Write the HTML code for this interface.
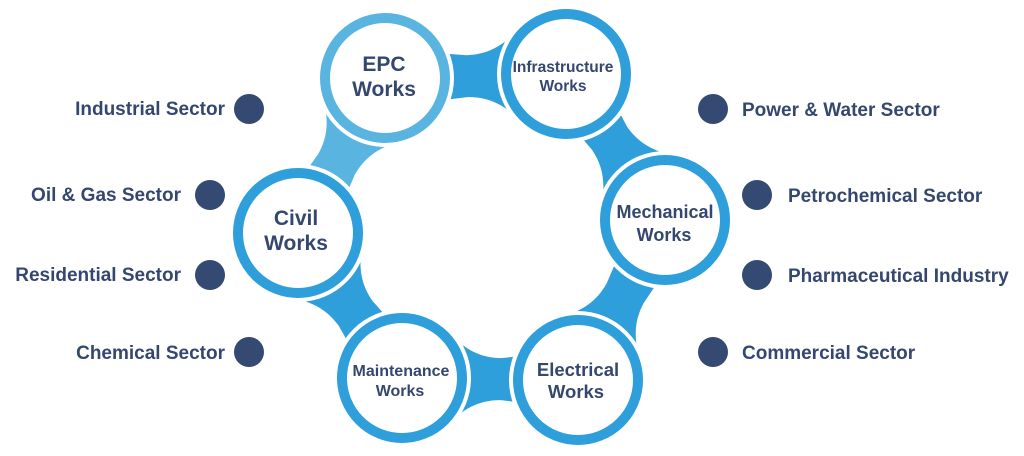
<!DOCTYPE html>
<html><head><meta charset="utf-8"><style>
html,body{margin:0;padding:0;background:#fff;width:1024px;height:456px;overflow:hidden}
svg{display:block}
text{font-family:"Liberation Sans",Arial,sans-serif;font-weight:bold;fill:#34476f}
</style></head><body>
<svg id="s" width="1024" height="456" viewBox="0 0 1024 456" xmlns="http://www.w3.org/2000/svg">
<g id="tails"></g><g id="gaps"></g><g id="patch"></g><g id="rings"></g>
<g font-size="19">
<text x="225" y="115" text-anchor="end">Industrial Sector</text>
<text x="181" y="201" text-anchor="end">Oil &amp; Gas Sector</text>
<text x="181" y="281" text-anchor="end">Residential Sector</text>
<text x="225" y="359" text-anchor="end">Chemical Sector</text>
<text x="742" y="116">Power &amp; Water Sector</text>
<text x="788" y="202">Petrochemical Sector</text>
<text x="788" y="282">Pharmaceutical Industry</text>
<text x="742" y="359">Commercial Sector</text>
</g>
<g fill="#344a73">
<circle cx="249" cy="109" r="15"/><circle cx="210" cy="195" r="15"/><circle cx="210" cy="275" r="15"/><circle cx="249" cy="352" r="15"/>
<circle cx="713" cy="109" r="15"/><circle cx="757" cy="195" r="15"/><circle cx="757" cy="275" r="15"/><circle cx="713" cy="352" r="15"/>
</g>
<g text-anchor="middle">
<text x="384" y="71" font-size="21">EPC</text><text x="384" y="96" font-size="21">Works</text>
<text x="563" y="72" font-size="15.5">Infrastructure</text><text x="563" y="91" font-size="15.5">Works</text>
<text x="665" y="218" font-size="18">Mechanical</text><text x="664" y="241" font-size="18">Works</text>
<text x="296" y="225" font-size="21">Civil</text><text x="296" y="250" font-size="21">Works</text>
<text x="401" y="376" font-size="16">Maintenance</text><text x="400" y="396" font-size="16">Works</text>
<text x="578" y="376" font-size="18.5">Electrical</text><text x="576" y="398" font-size="18.5">Works</text>
</g>
</svg>
<script>
var C={epc:[385,78],inf:[566,74],mec:[665,220],ele:[578,380],mai:[402,378],civ:[298,233]};
var R=65,B="#2e9fda",L="#5ab4e0";
var links=[["inf","epc",B],["mec","inf",B],["ele","mec",B],["mai","ele",B],["civ","mai",B],["epc","civ",L]];
var ns="http://www.w3.org/2000/svg";
function el(t,a,p){var e=document.createElementNS(ns,t);for(var k in a)e.setAttribute(k,a[k]);document.getElementById(p).appendChild(e);return e;}
var defs=document.createElementNS(ns,"defs");document.getElementById("s").insertBefore(defs,document.getElementById("s").firstChild);
links.forEach(function(l,i){
 var s=C[l[0]],t=C[l[1]],dx=t[0]-s[0],dy=t[1]-s[1],d=Math.hypot(dx,dy),ang=Math.atan2(dy,dx)*180/Math.PI;
 var a=45*Math.PI/180,h=21,p1x=R*Math.cos(a),p1y=R*Math.sin(a);
 var tx=Math.sin(a),ty=-Math.cos(a);
 var ex=d-R+14,mx=R+34,k=22;
 var path="M0 0 L"+p1x+" "+p1y+" C"+(p1x+tx*k)+" "+(p1y+ty*k)+" "+(mx-k)+" "+h+" "+mx+" "+h+
  " L"+ex+" "+(h+3)+" L"+ex+" "+(-h-3)+" L"+mx+" "+(-h)+" C"+(mx-k)+" "+(-h)+" "+(p1x+tx*k)+" "+(-p1y-ty*k)+" "+p1x+" "+(-p1y)+" Z";
 var tr="translate("+s[0]+","+s[1]+") rotate("+ang+")";
 el("path",{d:path,fill:l[2],transform:tr},"tails");
 var cp=document.createElementNS(ns,"clipPath");cp.setAttribute("id","c"+i);
 var cc=document.createElementNS(ns,"circle");cc.setAttribute("cx",s[0]);cc.setAttribute("cy",s[1]);cc.setAttribute("r",R+6);
 cp.appendChild(cc);defs.appendChild(cp);
 el("path",{d:path,fill:l[2],transform:tr,"clip-path":"url(#c"+i+")"},"patch");
 el("circle",{cx:s[0],cy:s[1],r:R+4,fill:"#fff"},"gaps");
 el("circle",{cx:s[0],cy:s[1],r:R-5,fill:"#fff",stroke:l[2],"stroke-width":10},"rings");
});
</script>
</body></html>
